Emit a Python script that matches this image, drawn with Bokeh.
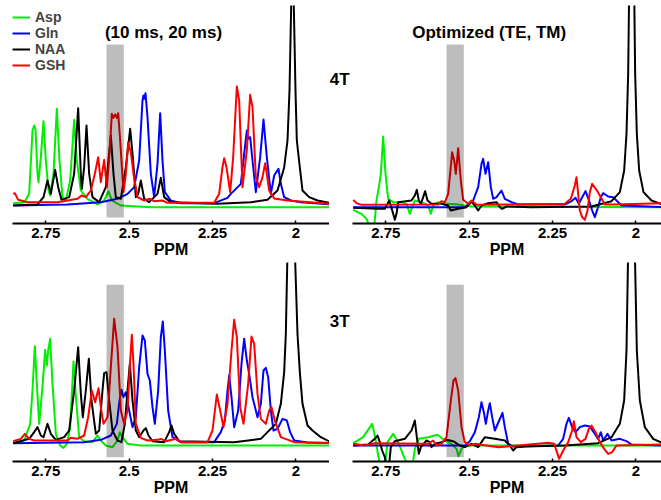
from bokeh.plotting import figure
from bokeh.models import Range1d, FixedTicker, Label, Legend, LegendItem
from bokeh.layouts import column, row
from bokeh.embed import file_html
from bokeh.resources import INLINE

# ---------------- data (arbitrary intensity units) ----------------
METABOLITES = ["Asp", "Gln", "NAA", "GSH"]
COLORS = ["#00ee00", "#0000ff", "#000000", "#ff0000"]
TICKS = [2.75, 2.5, 2.25, 2.0]
TICK_LABELS = ["2.75", "2.5", "2.25", "2"]
BOX_PPM = [2.568, 2.516]

# 4T, (10 ms, 20 ms)
TL_ASP_PPM = [2.848, 2.815, 2.800, 2.790, 2.785, 2.781, 2.775, 2.772, 2.765, 2.757, 2.750, 2.742, 2.737, 2.727, 2.717, 2.709, 2.700, 2.690, 2.677, 2.665, 2.657, 2.645, 2.625, 2.595, 2.575, 2.562, 2.552, 2.525, 2.435, 1.895]
TL_ASP_I = [0.12, 0.14, 0.40, 2.30, 2.45, 2.35, 1.00, 0.75, 1.50, 2.58, 1.40, 0.50, 0.35, 1.00, 2.95, 1.40, 0.30, 0.20, 0.80, 2.62, 1.40, 0.50, 0.25, 0.08, 0.20, 0.48, 0.20, 0.05, 0.0, 0.0]
TL_GLN_PPM = [2.848, 2.685, 2.585, 2.535, 2.505, 2.485, 2.470, 2.460, 2.457, 2.454, 2.451, 2.445, 2.435, 2.425, 2.415, 2.407, 2.400, 2.393, 2.375, 2.345, 2.245, 2.205, 2.195, 2.165, 2.155, 2.147, 2.142, 2.137, 2.130, 2.120, 2.107, 2.097, 2.087, 2.075, 2.065, 2.052, 2.045, 2.035, 2.015, 1.985, 1.895]
TL_GLN_I = [0.05, 0.08, 0.15, 0.25, 0.40, 0.60, 1.40, 3.20, 3.35, 3.25, 3.42, 2.70, 1.00, 0.30, 1.30, 2.82, 1.40, 0.45, 0.20, 0.12, 0.12, 0.28, 0.40, 0.70, 1.60, 2.30, 2.05, 2.10, 1.40, 0.45, 1.50, 2.63, 1.50, 0.40, 0.95, 1.15, 0.70, 0.30, 0.20, 0.15, 0.08]
TL_NAA_PPM = [2.848, 2.775, 2.757, 2.745, 2.735, 2.722, 2.713, 2.703, 2.680, 2.665, 2.653, 2.645, 2.642, 2.635, 2.628, 2.620, 2.610, 2.590, 2.570, 2.555, 2.547, 2.540, 2.525, 2.510, 2.497, 2.489, 2.480, 2.473, 2.465, 2.455, 2.440, 2.415, 2.405, 2.395, 2.375, 2.235, 2.135, 2.085, 2.055, 2.035, 2.025, 2.019, 2.016, 2.013, 2.007, 2.004, 2.001, 1.997, 1.988, 1.980, 1.960, 1.935, 1.895]
TL_NAA_I = [0.05, 0.08, 0.30, 0.80, 0.40, 1.12, 0.60, 0.22, 0.30, 1.00, 2.97, 1.00, 0.55, 1.20, 2.45, 1.00, 0.30, 0.15, 0.60, 2.15, 1.00, 0.30, 0.25, 1.20, 2.35, 1.50, 0.30, 0.40, 0.80, 0.25, 0.15, 0.40, 0.88, 0.30, 0.15, 0.10, 0.15, 0.22, 0.50, 1.19, 2.00, 3.50, 5.00, 6.50, 6.50, 5.00, 3.50, 2.00, 1.19, 0.50, 0.30, 0.20, 0.12]
TL_GSH_PPM = [2.848, 2.843, 2.833, 2.805, 2.715, 2.685, 2.655, 2.643, 2.630, 2.615, 2.603, 2.593, 2.585, 2.575, 2.567, 2.559, 2.552, 2.547, 2.542, 2.537, 2.533, 2.527, 2.517, 2.510, 2.503, 2.495, 2.487, 2.475, 2.455, 2.438, 2.425, 2.400, 2.385, 2.245, 2.230, 2.220, 2.215, 2.208, 2.197, 2.188, 2.177, 2.170, 2.160, 2.147, 2.137, 2.130, 2.120, 2.110, 2.100, 2.092, 2.080, 2.065, 2.025, 1.895]
TL_GSH_I = [0.40, 0.42, 0.22, 0.15, 0.15, 0.20, 0.25, 0.35, 0.30, 0.50, 1.00, 1.50, 0.75, 1.42, 0.60, 1.60, 2.80, 2.68, 2.78, 2.68, 2.82, 2.00, 0.45, 1.00, 1.95, 1.65, 1.00, 0.30, 0.20, 0.25, 0.18, 0.20, 0.13, 0.13, 0.40, 1.20, 1.47, 1.20, 0.45, 1.50, 3.62, 3.20, 0.60, 1.70, 3.37, 3.00, 0.90, 0.60, 0.90, 1.32, 0.50, 0.26, 0.20, 0.10]

# 4T, optimized (TE, TM)
TR_ASP_PPM = [2.848, 2.823, 2.808, 2.798, 2.791, 2.785, 2.778, 2.771, 2.765, 2.758, 2.751, 2.743, 2.728, 2.703, 2.688, 2.678, 2.673, 2.663, 2.643, 2.623, 2.615, 2.608, 2.593, 2.578, 2.563, 2.533, 2.493, 1.923]
TR_ASP_I = [-0.08, -0.20, -0.35, -0.60, -0.80, -0.60, 0.20, 0.60, 1.00, 2.12, 1.00, 0.25, 0.15, 0.15, 0.10, -0.20, -0.05, 0.20, 0.15, 0.05, -0.20, 0.05, 0.15, 0.12, 0.10, 0.08, 0.02, 0.0]
TR_GLN_PPM = [2.848, 2.513, 2.503, 2.488, 2.473, 2.463, 2.458, 2.451, 2.443, 2.435, 2.428, 2.418, 2.403, 2.393, 2.373, 2.353, 2.213, 2.193, 2.181, 2.171, 2.161, 2.151, 2.141, 2.131, 2.123, 2.115, 2.105, 2.098, 2.083, 2.068, 2.055, 2.043, 1.920]
TR_GLN_I = [0.0, 0.0, 0.08, 0.20, 0.60, 1.30, 1.45, 1.00, 1.35, 0.60, 0.25, 0.30, 0.50, 0.25, 0.15, 0.08, 0.08, 0.18, 0.28, 0.10, 0.30, 0.48, 0.22, -0.10, -0.30, -0.05, 0.30, 0.42, 0.32, 0.30, 0.17, 0.05, 0.0]
TR_NAA_PPM = [2.848, 2.773, 2.753, 2.745, 2.740, 2.735, 2.728, 2.723, 2.718, 2.713, 2.673, 2.663, 2.657, 2.651, 2.645, 2.638, 2.632, 2.625, 2.613, 2.583, 2.563, 2.555, 2.533, 2.508, 2.493, 2.483, 2.473, 2.463, 2.443, 2.418, 2.408, 2.401, 2.388, 2.313, 2.133, 2.073, 2.048, 2.035, 2.028, 2.023, 2.020, 2.005, 2.002, 1.997, 1.990, 1.977, 1.953, 1.920]
TR_NAA_I = [-0.02, -0.05, -0.05, 0.10, 0.20, 0.05, -0.20, -0.38, -0.20, 0.15, 0.20, 0.35, 0.52, 0.20, 0.10, 0.30, 0.48, 0.20, 0.10, 0.10, 0.05, -0.10, -0.05, 0.0, 0.17, 0.05, -0.10, 0.05, 0.12, 0.15, 0.0, -0.05, 0.02, 0.0, 0.02, 0.18, 0.45, 1.10, 2.20, 4.00, 6.50, 6.50, 4.00, 2.20, 1.10, 0.45, 0.20, 0.08]
TR_GSH_PPM = [2.848, 2.838, 2.823, 2.593, 2.583, 2.573, 2.563, 2.551, 2.545, 2.540, 2.533, 2.525, 2.518, 2.503, 2.493, 2.478, 2.213, 2.195, 2.183, 2.178, 2.173, 2.168, 2.161, 2.153, 2.145, 2.138, 2.131, 2.118, 2.108, 2.093, 2.063, 1.920]
TR_GSH_I = [0.22, 0.12, 0.07, 0.08, 0.18, 0.15, 0.40, 1.65, 1.40, 1.00, 1.77, 0.80, 0.22, 0.10, 0.20, 0.07, 0.10, 0.25, 0.65, 0.90, 0.40, -0.10, -0.30, -0.38, -0.10, 0.45, 0.70, 0.52, 0.35, 0.08, 0.08, 0.12]

# 3T, (10 ms, 20 ms)
BL_ASP_PPM = [2.848, 2.815, 2.797, 2.790, 2.783, 2.777, 2.770, 2.761, 2.752, 2.747, 2.743, 2.737, 2.730, 2.720, 2.707, 2.697, 2.687, 2.677, 2.667, 2.659, 2.650, 2.635, 2.610, 2.595, 2.585, 2.570, 2.550, 2.535, 2.528, 2.520, 2.505, 2.465, 1.895]
BL_ASP_I = [0.08, 0.15, 0.65, 1.65, 2.98, 1.85, 0.65, 1.65, 2.87, 2.40, 2.85, 3.20, 1.85, 0.35, 0.0, -0.07, 0.05, 0.55, 2.52, 1.35, 0.25, 0.13, 0.10, 0.30, 0.15, 0.0, -0.05, 0.15, 0.40, 0.25, 0.05, 0.0, 0.0]
BL_GLN_PPM = [2.848, 2.635, 2.585, 2.555, 2.537, 2.529, 2.523, 2.517, 2.510, 2.500, 2.490, 2.480, 2.470, 2.460, 2.453, 2.445, 2.438, 2.430, 2.423, 2.413, 2.405, 2.399, 2.393, 2.383, 2.370, 2.345, 2.245, 2.225, 2.213, 2.205, 2.200, 2.193, 2.185, 2.173, 2.163, 2.155, 2.147, 2.140, 2.130, 2.115, 2.105, 2.097, 2.090, 2.083, 2.075, 2.067, 2.055, 2.040, 2.027, 2.017, 2.005, 1.965, 1.895]
BL_GLN_I = [0.07, 0.10, 0.17, 0.30, 0.65, 1.35, 1.67, 1.45, 1.60, 1.05, 0.55, 0.85, 2.35, 3.30, 3.15, 2.15, 1.95, 1.15, 0.65, 1.65, 3.25, 3.72, 2.85, 1.05, 0.25, 0.10, 0.10, 0.40, 0.75, 1.65, 2.10, 1.45, 0.55, 1.05, 2.45, 3.20, 2.55, 2.15, 1.45, 0.85, 1.25, 2.25, 2.33, 2.05, 1.05, 0.45, 0.50, 0.80, 0.75, 0.40, 0.15, 0.09, 0.07]
BL_NAA_PPM = [2.848, 2.800, 2.785, 2.775, 2.765, 2.757, 2.745, 2.735, 2.720, 2.695, 2.680, 2.665, 2.653, 2.645, 2.639, 2.630, 2.621, 2.613, 2.600, 2.590, 2.580, 2.575, 2.568, 2.560, 2.550, 2.535, 2.523, 2.513, 2.505, 2.498, 2.490, 2.480, 2.470, 2.457, 2.450, 2.442, 2.430, 2.395, 2.380, 2.373, 2.365, 2.350, 2.185, 2.105, 2.085, 2.060, 2.045, 2.035, 2.030, 2.025, 2.022, 2.005, 2.003, 1.995, 1.988, 1.980, 1.965, 1.950, 1.925, 1.895]
BL_NAA_I = [0.07, 0.20, 0.40, 0.55, 0.30, 0.25, 0.65, 0.35, 0.17, 0.25, 0.45, 1.65, 2.95, 1.55, 0.85, 1.65, 2.60, 1.35, 0.35, 0.45, 1.65, 2.17, 2.20, 1.35, 0.45, 0.15, 0.10, 0.65, 1.65, 2.45, 1.35, 0.45, 0.25, 0.45, 0.52, 0.30, 0.13, 0.10, 0.40, 0.60, 0.35, 0.13, 0.10, 0.20, 0.40, 0.65, 1.25, 2.20, 3.35, 5.85, 7.00, 7.00, 5.85, 3.35, 2.20, 1.25, 0.60, 0.45, 0.25, 0.10]
BL_GSH_PPM = [2.848, 2.825, 2.813, 2.800, 2.785, 2.685, 2.675, 2.655, 2.635, 2.623, 2.612, 2.602, 2.592, 2.585, 2.577, 2.565, 2.555, 2.545, 2.535, 2.525, 2.515, 2.505, 2.497, 2.492, 2.487, 2.480, 2.465, 2.445, 2.415, 2.405, 2.390, 2.360, 2.345, 2.265, 2.250, 2.237, 2.225, 2.217, 2.205, 2.193, 2.185, 2.177, 2.167, 2.157, 2.143, 2.133, 2.125, 2.115, 2.105, 2.090, 2.080, 2.073, 2.063, 2.045, 2.005, 1.895]
BL_GSH_I = [0.13, 0.20, 0.35, 0.20, 0.15, 0.15, 0.23, 0.20, 0.30, 0.85, 1.65, 1.30, 1.72, 1.15, 0.65, 0.85, 2.35, 3.80, 2.95, 1.05, 0.65, 1.05, 2.55, 3.32, 2.45, 0.65, 0.23, 0.15, 0.17, 0.20, 0.13, 0.20, 0.10, 0.10, 0.45, 1.53, 0.95, 0.55, 1.25, 2.85, 3.77, 3.25, 1.15, 0.65, 1.85, 3.27, 3.05, 1.55, 0.80, 0.65, 1.05, 1.15, 0.75, 0.25, 0.10, 0.07]

# 3T, optimized (TE, TM)
BR_ASP_PPM = [2.848, 2.818, 2.791, 2.781, 2.773, 2.763, 2.755, 2.745, 2.728, 2.713, 2.693, 2.673, 2.663, 2.651, 2.623, 2.595, 2.573, 2.553, 2.538, 2.532, 2.523, 2.513, 1.920]
BR_ASP_I = [0.07, 0.25, 0.65, 0.20, -0.30, -0.80, -0.80, 0.10, 0.35, 0.10, -0.40, -0.80, -0.10, 0.20, 0.25, 0.32, 0.15, 0.05, -0.10, -0.32, -0.10, 0.0, 0.0]
BR_GLN_PPM = [2.848, 2.513, 2.498, 2.483, 2.471, 2.463, 2.455, 2.450, 2.443, 2.438, 2.431, 2.423, 2.410, 2.400, 2.393, 2.383, 2.368, 2.233, 2.218, 2.208, 2.201, 2.191, 2.181, 2.168, 2.153, 2.138, 2.123, 2.113, 2.105, 2.098, 2.085, 2.073, 2.048, 2.028, 2.013, 1.920]
BR_GLN_I = [0.0, 0.0, 0.13, 0.40, 0.85, 1.30, 0.95, 0.65, 1.05, 1.27, 0.85, 0.45, 0.75, 0.98, 0.55, 0.05, -0.03, 0.0, 0.20, 0.65, 0.83, 0.55, 0.40, 0.55, 0.60, 0.57, 0.35, 0.20, 0.40, 0.15, 0.35, 0.15, 0.20, 0.13, 0.03, 0.0]
BR_NAA_PPM = [2.848, 2.803, 2.783, 2.775, 2.768, 2.761, 2.753, 2.747, 2.741, 2.735, 2.723, 2.693, 2.673, 2.663, 2.657, 2.651, 2.645, 2.628, 2.618, 2.613, 2.603, 2.583, 2.568, 2.548, 2.528, 2.513, 2.493, 2.473, 2.453, 2.423, 2.393, 2.378, 2.368, 2.358, 2.333, 2.213, 2.113, 2.073, 2.048, 2.035, 2.028, 2.023, 2.018, 2.008, 2.003, 1.997, 1.988, 1.973, 1.948, 1.920]
BR_NAA_I = [0.0, 0.03, 0.20, 0.30, 0.10, -0.15, -0.35, -0.75, -0.65, -0.05, 0.13, 0.20, 0.45, 0.75, 0.25, -0.25, -0.05, 0.15, 0.10, -0.05, 0.05, 0.10, 0.17, 0.13, 0.0, -0.05, 0.05, -0.05, 0.25, 0.20, 0.15, 0.0, -0.15, -0.05, -0.03, 0.0, 0.07, 0.25, 0.65, 1.35, 2.85, 5.85, 7.00, 7.00, 5.85, 2.85, 1.35, 0.55, 0.20, 0.07]
BR_GSH_PPM = [2.848, 2.813, 2.783, 2.623, 2.608, 2.598, 2.583, 2.568, 2.555, 2.547, 2.541, 2.533, 2.523, 2.513, 2.498, 2.483, 2.413, 2.353, 2.263, 2.245, 2.230, 2.218, 2.203, 2.191, 2.186, 2.178, 2.165, 2.151, 2.141, 2.133, 2.121, 2.108, 2.095, 2.083, 2.071, 2.058, 1.920]
BR_GSH_I = [0.05, 0.0, 0.07, 0.05, 0.15, 0.0, 0.05, 0.25, 1.35, 1.95, 2.02, 1.65, 0.55, 0.10, 0.0, 0.05, -0.05, 0.0, 0.08, 0.05, -0.40, -0.15, 0.10, 0.45, 0.73, 0.25, 0.10, 0.20, 0.50, 0.60, 0.40, 0.10, -0.10, -0.25, -0.20, 0.0, 0.03]

# ---------------- styling / layout ----------------
FONT = "Liberation Sans"
X_START = 2.85
TOP_Y = (-0.49, 6.05)
BOT_Y = (-0.48, 5.49)
TOP_BORDER = 5
AXIS_BORDER = 39
TOP_H, BOT_H = 262, 238


def make_fig(width, height, x_end, y_rng, border_left, border_top):
    p = figure(width=width, height=height,
               x_range=Range1d(X_START, x_end), y_range=Range1d(*y_rng),
               output_backend="svg", toolbar_location=None, y_axis_location=None,
               min_border_left=border_left, min_border_right=0,
               min_border_top=border_top, min_border_bottom=AXIS_BORDER)
    p.outline_line_color = None
    p.grid.visible = False
    ax = p.xaxis[0]
    ax.ticker = FixedTicker(ticks=TICKS)
    ax.major_label_overrides = {t: l for t, l in zip(TICKS, TICK_LABELS)}
    ax.axis_label = "PPM"
    ax.axis_label_text_font = FONT
    ax.axis_label_text_font_style = "bold"
    ax.axis_label_text_font_size = "16px"
    ax.axis_label_text_color = "black"
    ax.axis_label_standoff = 0
    ax.major_label_text_font = FONT
    ax.major_label_text_font_style = "bold"
    ax.major_label_text_font_size = "15px"
    ax.major_label_text_color = "black"
    ax.major_label_standoff = 4
    ax.major_tick_in = 3
    ax.major_tick_out = 0
    ax.minor_tick_in = 0
    ax.minor_tick_out = 0
    ax.axis_line_width = 2
    ax.axis_line_color = "black"
    ax.major_tick_line_width = 1.5
    ax.major_tick_line_color = "black"
    return p


def add_text(p, text, x, y, align="center", size="17px"):
    p.add_layout(Label(x=x, y=y, text=text, text_font=FONT, text_font_style="bold",
                       text_font_size=size, text_align=align, text_baseline="middle",
                       text_color="black"))


def make_gap(height, y_rng, border_top, text, y):
    g = figure(width=22, height=height, x_range=Range1d(0, 22), y_range=Range1d(*y_rng),
               output_backend="svg", toolbar_location=None,
               x_axis_location=None, y_axis_location=None,
               min_border_left=0, min_border_right=0,
               min_border_top=border_top, min_border_bottom=AXIS_BORDER)
    g.outline_line_color = None
    g.grid.visible = False
    add_text(g, text, 0.3, y, align="left")
    return g


def draw(p, series, box_bottom, box_top):
    rends = []
    for (xs, ys), c in zip(series, COLORS):
        rends.append(p.line(xs, ys, line_color=c, line_width=2, line_join="round"))
    p.quad(left=[BOX_PPM[0]], right=[BOX_PPM[1]], bottom=[box_bottom], top=[box_top],
           fill_color="black", fill_alpha=0.26, line_color=None)
    return rends


tl = make_fig(329, TOP_H, 1.899, TOP_Y, 12, TOP_BORDER)
tr = make_fig(310, TOP_H, 1.923, TOP_Y, 1, TOP_BORDER)
bl = make_fig(329, BOT_H, 1.899, BOT_Y, 12, 0)
br = make_fig(310, BOT_H, 1.923, BOT_Y, 1, 0)
gt = make_gap(TOP_H, TOP_Y, TOP_BORDER, "4T", 3.83)
gb = make_gap(BOT_H, BOT_Y, 0, "3T", 3.72)

tl_r = draw(tl, [(TL_ASP_PPM, TL_ASP_I), (TL_GLN_PPM, TL_GLN_I), (TL_NAA_PPM, TL_NAA_I), (TL_GSH_PPM, TL_GSH_I)], -0.31, 4.88)
draw(tr, [(TR_ASP_PPM, TR_ASP_I), (TR_GLN_PPM, TR_GLN_I), (TR_NAA_PPM, TR_NAA_I), (TR_GSH_PPM, TR_GSH_I)], -0.31, 4.88)
draw(bl, [(BL_ASP_PPM, BL_ASP_I), (BL_GLN_PPM, BL_GLN_I), (BL_NAA_PPM, BL_NAA_I), (BL_GSH_PPM, BL_GSH_I)], -0.35, 4.82)
draw(br, [(BR_ASP_PPM, BR_ASP_I), (BR_GLN_PPM, BR_GLN_I), (BR_NAA_PPM, BR_NAA_I), (BR_GSH_PPM, BR_GSH_I)], -0.35, 4.82)

# one single-item legend per row, stacked tightly as in the original
LEGEND_VY = [198, 182, 166, 150]
for m, r, vy in zip(METABOLITES, tl_r, LEGEND_VY):
    lg = Legend(items=[LegendItem(label=m, renderers=[r])], location=(0, vy))
    lg.label_text_font = FONT
    lg.label_text_font_style = "bold"
    lg.label_text_font_size = "14px"
    lg.glyph_width = 18
    lg.glyph_height = 12
    lg.label_height = 12
    lg.label_standoff = 5
    lg.spacing = 0
    lg.padding = 0
    lg.margin = 0
    lg.background_fill_alpha = 0
    lg.border_line_color = None
    tl.add_layout(lg)

add_text(tl, "(10 ms, 20 ms)", 2.397, 5.24)
add_text(tr, "Optimized (TE, TM)", 2.440, 5.25)

layout = column(row(tl, gt, tr), row(bl, gb, br))
open("out.html", "w").write(file_html(layout, INLINE))
